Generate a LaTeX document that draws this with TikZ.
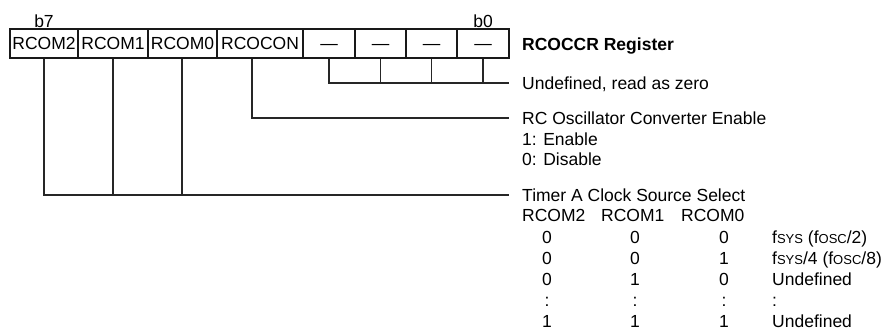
\documentclass[tikz,border=0pt]{standalone}
\usepackage{fontspec}
\setmainfont{Liberation Sans}
\newcommand\mysys{f{\fontsize{13}{14}\selectfont SYS}}
\newcommand\myosc{f{\fontsize{13}{14}\selectfont OSC}}
\begin{document}
\begin{tikzpicture}[x=1pt,y=-1pt,font=\fontsize{17.5}{20}\selectfont,
  txt/.style={inner sep=0pt,text height=12.5pt,text depth=0pt,anchor=west},
  ctxt/.style={inner sep=0pt,text height=12.5pt,text depth=0pt,anchor=center},
  reg/.style={draw=black!90,line width=1.1pt,minimum height=29pt,inner sep=0pt,text height=12.5pt,text depth=0pt},
  lead/.style={line width=1.2pt,draw=black!85}]
\useasboundingbox (0,0) rectangle (890,331);
% register boxes
\node[reg,minimum width=68pt] (r7) at (44,43.5) {RCOM2};
\node[reg,minimum width=70pt] (r6) at (113,43.5) {RCOM1};
\node[reg,minimum width=69pt] (r5) at (182.5,43.5) {RCOM0};
\node[reg,minimum width=86pt] (r4) at (260,43.5) {RCOCON};
\node[reg,minimum width=52pt] (r3) at (329,43.5) {—};
\node[reg,minimum width=51pt] (r2) at (380.5,43.5) {—};
\node[reg,minimum width=51pt] (r1) at (431.5,43.5) {—};
\node[reg,minimum width=52pt] (r0) at (483,43.5) {—};
\node[ctxt] (b7) at (44,21) {b7};
\node[ctxt] (b0) at (483,21) {b0};
\node[txt,font=\fontsize{17.5}{20}\selectfont\bfseries] (title) at (522,44) {RCOCCR Register};
% undefined bits
\coordinate (udEnd) at (509,83);
\node[txt] (ud) at (522,83) {Undefined, read as zero};
\draw[lead] (r3.south) |- (udEnd);
\foreach \n in {r2,r1,r0} {\draw[lead] (\n.south) -- (\n.south |- udEnd);}
% RCOCON
\coordinate (rcEnd) at (509,118);
\draw[lead] ([xshift=-8pt]r4.south) |- (rcEnd);
\node[txt] (rc) at (522,118) {RC Oscillator Converter Enable};
\node[txt] (rc1) at (522,139) {1: Enable};
\node[txt] (rc0) at (522,159) {0: Disable};
% Timer A clock source
\coordinate (tEnd) at (509,195);
\draw[lead] (r7.south) |- (tEnd);
\draw[lead] (r6.south) -- (r6.south |- tEnd);
\draw[lead] ([xshift=-0.5pt]r5.south) -- ([xshift=-0.5pt]r5.south |- tEnd);
\node[txt] (ta) at (522,195) {Timer A Clock Source Select};
\node[txt] (h2) at (522,215) {RCOM2};
\node[txt] (h1) at (601,215) {RCOM1};
\node[txt] (h0) at (681,215) {RCOM0};
% rows
\node[ctxt] (a2) at (547,237) {0}; \node[ctxt] (a1) at (635,237) {0}; \node[ctxt] (a0) at (724,237) {0};
\node[txt] (av) at (772,237) {\mysys{} (\myosc/2)};
\node[ctxt] (b2) at (547,258) {0}; \node[ctxt] (b1) at (635,258) {0}; \node[ctxt] (b0r) at (724,258) {1};
\node[txt] (bv) at (772,258) {\mysys/4 (\myosc/8)};
\node[ctxt] (c2) at (547,279) {0}; \node[ctxt] (c1) at (635,279) {1}; \node[ctxt] (c0) at (724,279) {0};
\node[txt] (cv) at (772,279) {Undefined};
\node[ctxt] (d2) at (547,300) {:}; \node[ctxt] (d1) at (635,300) {:}; \node[ctxt] (d0) at (724,300) {:};
\node[txt] (dv) at (772,300) {:};
\node[ctxt] (e2) at (547,321) {1}; \node[ctxt] (e1) at (635,321) {1}; \node[ctxt] (e0) at (724,321) {1};
\node[txt] (ev) at (772,321) {Undefined};
\end{tikzpicture}
\end{document}
